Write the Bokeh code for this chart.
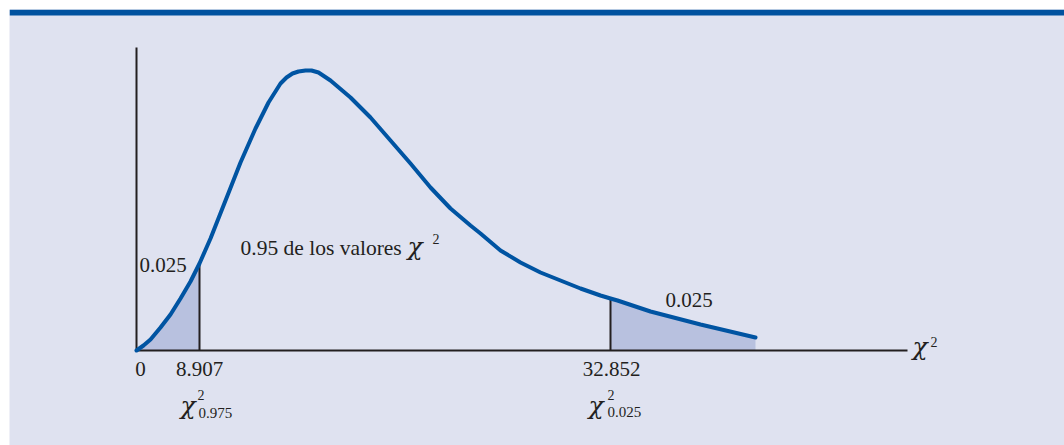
from bokeh.plotting import figure
from bokeh.models import Range1d
from bokeh.embed import file_html
from bokeh.resources import INLINE
from bokeh.core.properties import value

# ---- data (stylised chi-square density, df = 19) ----
# horizontal position along the drawn axis and the drawn curve height
curve_pos = [0, 7, 14, 24, 34, 44, 54, 63, 74, 91, 104, 119, 132, 144, 150, 156, 162, 169,
             175, 182, 194, 214, 234, 254, 274, 294, 314, 334, 344, 364, 384, 404, 424,
             444, 464, 474, 481, 514, 564, 619]
curve_dens = [0, 5, 11, 23, 36, 52, 69, 87, 112, 155, 188, 222, 248, 267, 273, 277, 279, 280,
              280, 278, 270, 253, 233, 210, 187, 163, 142, 125, 117, 100, 88, 78, 70,
              62, 55, 52, 50, 39, 26, 13]

crit_values = [0, 8.907, 32.852]
crit_labels = ["0", "8.907", "32.852"]
crit_pos = [0, 63, 474]
tail_prob = "0.025"
center_prob = "0.95 de los valores"
lower_sub = "0.975"
upper_sub = "0.025"

BG = "#dfe2f0"
BAND = "#00529f"
CURVE = "#0054a2"
FILL = "#b8c1df"
INK = "#231f20"
SERIF = value("Liberation Serif")
CHI_FONT = value("DejaVu Serif")

p = figure(width=1055, height=436, x_range=Range1d(-127, 928), y_range=Range1d(-95, 341),
           output_backend="svg", toolbar_location=None, min_border=0,
           x_axis_location=None, y_axis_location=None, margin=(9, 0, 0, 9))
p.grid.visible = False
p.outline_line_color = None
p.background_fill_color = BG
p.border_fill_color = BG

# top band
p.quad(left=[-127], right=[928], bottom=[335], top=[341], fill_color=BAND, line_color=None)

# shaded tails
lo_idx = curve_pos.index(crit_pos[1])
hi_idx = curve_pos.index(crit_pos[2])
p.varea(x=curve_pos[:lo_idx + 1], y1=[0] * (lo_idx + 1), y2=curve_dens[:lo_idx + 1],
        fill_color=FILL)
n_hi = len(curve_pos) - hi_idx
p.varea(x=curve_pos[hi_idx:], y1=[0] * n_hi, y2=curve_dens[hi_idx:], fill_color=FILL)

# critical value lines
p.segment(x0=crit_pos[1:], y0=[0, 0], x1=crit_pos[1:],
          y1=[curve_dens[lo_idx], curve_dens[hi_idx]], line_color=INK, line_width=2)

# axes
p.segment(x0=[0, 0], y0=[0, 0], x1=[771, 0], y1=[0, 303], line_color=INK, line_width=2)

# curve
p.line(curve_pos, curve_dens, line_color=CURVE, line_width=4,
       line_join="round", line_cap="round")

# labels
p.text(x=[3, 529], y=[86, 51], text=[tail_prob, tail_prob], text_font=SERIF,
       text_font_size="21px", text_color=INK, text_baseline="alphabetic", text_align="left")
p.text(x=[104], y=[103], text=[center_prob], text_font=SERIF, text_font_size="21.5px",
       text_color=INK, text_baseline="alphabetic", text_align="left")
p.text(x=[4, 63, 475], y=[-18, -18, -18], text=crit_labels, text_font=SERIF,
       text_font_size="21px", text_color=INK, text_baseline="alphabetic", text_align="center")

# chi symbols (italic) + superscripts / subscripts
p.text(x=[271, 776, 44, 452], y=[104, 4, -55, -55], text=["χ"] * 4, text_font=CHI_FONT,
       text_font_style="italic", text_font_size="25px", text_color=INK,
       text_baseline="alphabetic", text_align="left")
p.text(x=[296, 794, 61, 471], y=[112, 9, -44, -44], text=["2"] * 4, text_font=SERIF,
       text_font_size="14px", text_color=INK, text_baseline="alphabetic", text_align="left")
p.text(x=[62, 471], y=[-62, -61], text=[lower_sub, upper_sub], text_font=SERIF,
       text_font_size="15px", text_color=INK, text_baseline="alphabetic", text_align="left")

open("out.html", "w").write(file_html(p, INLINE))
